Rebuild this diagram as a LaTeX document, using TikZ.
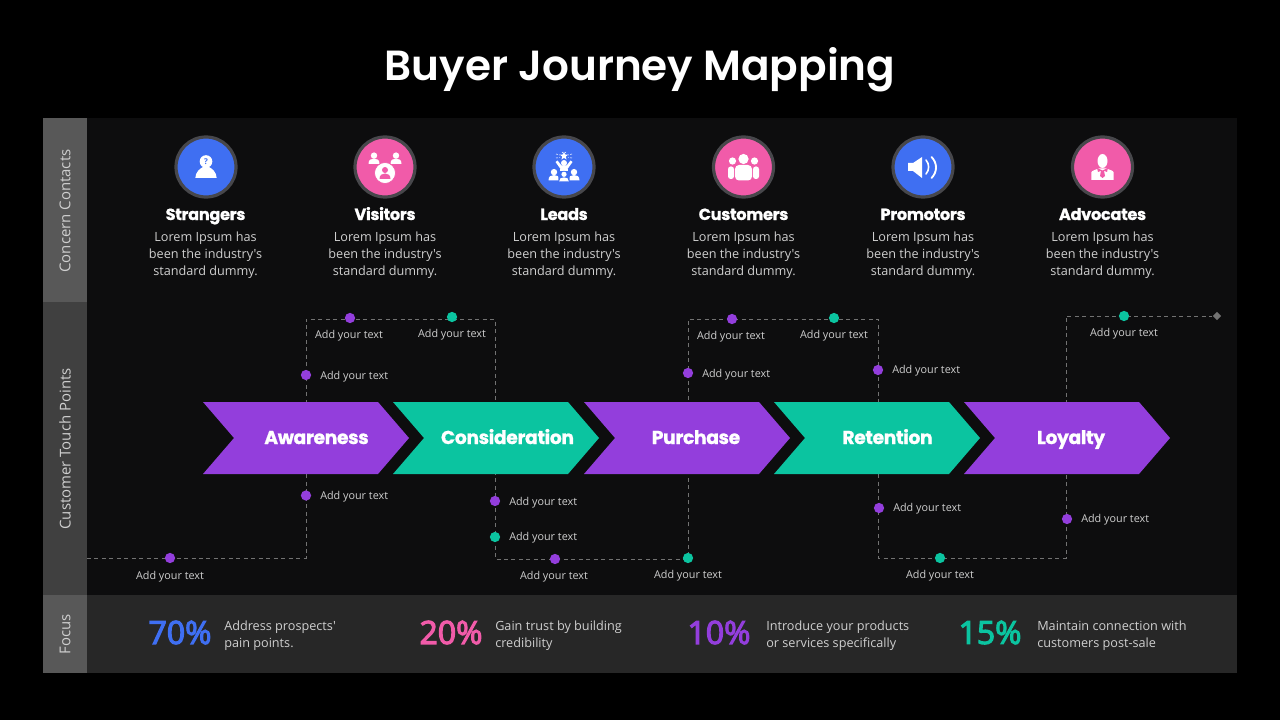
\documentclass[tikz,border=0pt]{standalone}
\usepackage{fontspec}
\newfontfamily\bodyf{Open Sans}
\newfontfamily\pctf{Open Sans}[FakeBold=3.5]
\newfontfamily\pop{Poppins}[UprightFont=* Bold,LetterSpace=-1.8,FakeBold=1]
\newfontfamily\popt{Poppins}[UprightFont=* SemiBold]
\usetikzlibrary{shapes.geometric}
\definecolor{cblue}{HTML}{3F6FF2}
\definecolor{cpink}{HTML}{F15BA9}
\definecolor{cpurple}{HTML}{933EDC}
\definecolor{cteal}{HTML}{0BC4A0}
\definecolor{panel}{HTML}{0D0D0E}
\definecolor{focusbg}{HTML}{272727}
\definecolor{side}{HTML}{404040}
\definecolor{sidelt}{HTML}{585858}
\definecolor{ringc}{HTML}{47474B}
\definecolor{bodyc}{HTML}{CFCFCF}
\definecolor{dashc}{HTML}{727272}
\tikzset{
  x=0.75pt,y=-0.75pt,
  ring/.style={circle,draw=ringc,line width=2.4pt,minimum size=45pt,inner sep=0pt},
  chevtext/.style={font=\pop\fontsize{14}{16}\selectfont,text=white,anchor=base,inner sep=0pt},
  head/.style={font=\pop\fontsize{12.1}{14}\selectfont,text=white,inner sep=0pt},
  bodytxt/.style={font=\bodyf\fontsize{9.5}{12.75}\selectfont,text=bodyc,align=center,inner sep=0pt},
  addc/.style={font=\bodyf\fontsize{8.1}{10}\selectfont,text=bodyc,inner sep=0pt,yshift=-1.5pt},
  addl/.style={addc,anchor=west},
  dotp/.style={circle,fill=cpurple,minimum size=7.7pt,inner sep=0pt},
  dott/.style={circle,fill=cteal,minimum size=7.7pt,inner sep=0pt},
  dashline/.style={draw=dashc,line width=0.55pt,dash pattern=on 3pt off 2.6pt},
  vert/.style={rotate=90,font=\bodyf\fontsize{11.2}{12}\selectfont,text=bodyc,inner sep=0pt},
  pct/.style={font=\pctf\fontsize{24}{28}\selectfont,inner sep=0pt},
  ftxt/.style={font=\bodyf\fontsize{9.5}{12.75}\selectfont,text=bodyc,align=left,anchor=west,inner sep=0pt,yshift=-1.5pt},
}
\newcommand{\chevshape}[2]{%
  \fill[#2] (#1,402) -- ++(175,0) -- ++(31,36) -- ++(-31,36) -- ++(-175,0) -- ++(31,-36) -- cycle;}
\newcommand{\sperson}[3]{% x y scale
  \begin{scope}[shift={(#1,#2)},scale=#3]
  \fill[white] (0,-3.4) circle (3.2);
  \fill[white] (-5.5,5) .. controls (-5.5,0.5) and (-3,-0.4) .. (0,-0.4) .. controls (3,-0.4) and (5.5,0.5) .. (5.5,5) -- cycle;
  \end{scope}}
\begin{document}
\begin{tikzpicture}
\path[use as bounding box,fill=black] (0,0) rectangle (1280,720);
\fill[panel] (87,118) rectangle (1237,595);
\fill[focusbg] (87,595) rectangle (1237,673);
\fill[sidelt] (43,118) rectangle (87,302);
\fill[side] (43,302) rectangle (87,595);
\fill[sidelt] (43,595) rectangle (87,673);
\node[font=\popt\fontsize{31.6}{38}\selectfont,text=white,inner sep=0pt,anchor=base] (title) at (640,81) {Buyer Journey Mapping};
\node[vert] (v1) at (65,211) {Concern Contacts};
\node[vert] (v2) at (65,449) {Customer Touch Points};
\node[vert] (v3) at (65,634) {Focus};

% rings
\node[ring,fill=cblue] (c1) at (206,167) {};
\node[ring,fill=cpink] (c2) at (385,167) {};
\node[ring,fill=cblue] (c3) at (564,167) {};
\node[ring,fill=cpink] (c4) at (743.5,167) {};
\node[ring,fill=cblue] (c5) at (923,167) {};
\node[ring,fill=cpink] (c6) at (1102.5,167) {};

% strangers icon
\begin{scope}[shift={(c1.center)}]
\fill[white] (0,-5.5) circle (6.3);
\fill[white] (-10.7,11) .. controls (-10.5,5) and (-6,1.5) .. (-3,0) -- (3,0) .. controls (6,1.5) and (10.5,5) .. (10.7,11) -- cycle;
\node[font=\bodyf\bfseries\fontsize{6}{6}\selectfont,text=cblue,inner sep=0pt] (q) at (0,-5.5) {?};
\end{scope}
% visitors icon
\begin{scope}[shift={(c2.center)}]
\sperson{-11}{-8}{1}
\sperson{11}{-8}{1}
\fill[white,draw=cpink,line width=0.5pt] (0,6) circle (10.5);
\fill[cpink] (0,3) circle (3);
\fill[cpink] (-5.5,12) .. controls (-5.5,8) and (-3,6.5) .. (0,6.5) .. controls (3,6.5) and (5.5,8) .. (5.5,12) -- cycle;
\end{scope}
% leads icon
\begin{scope}[shift={(c3.center)}]
\node[star,star points=5,star point ratio=2.3,fill=white,minimum size=6.5pt,inner sep=0pt] (st) at (0,-11) {};
\draw[white,line width=0.4pt,dash pattern=on 1.5pt off 1pt] (-8,-13) -- (-4,-12) (8,-13) -- (4,-12) (-8,-9) -- (-4,-9.5) (8,-9) -- (4,-9.5) (-2,-15) -- (-1,-14) (2,-15) -- (1,-14);
\fill[white] (0,-4) circle (3);
\fill[white] (-8.5,-5) -- (-6.5,-6.5) -- (-2.5,-1.5) -- (2.5,-1.5) -- (6.5,-6.5) -- (8.5,-5) -- (3.5,2) -- (-3.5,2) -- cycle;
\sperson{-10}{8.5}{1}
\sperson{10}{8.5}{1}
\fill[white] (-4,2) rectangle (4,4);
\fill[cblue] (-5.7,14.5) -- (-5.7,9) .. controls (-5.7,5) and (-3,3.8) .. (0,3.8) .. controls (3,3.8) and (5.7,5) .. (5.7,9) -- (5.7,14.5) -- cycle;
\fill[white] (0,7.3) circle (2.6);
\fill[white] (-4.8,14.3) .. controls (-4.8,11.5) and (-2.8,10.4) .. (0,10.4) .. controls (2.8,10.4) and (4.8,11.5) .. (4.8,14.3) -- cycle;
\end{scope}
% customers icon
\begin{scope}[shift={(c4.center)}]
\fill[white] (0,-8) circle (5.1);
\fill[white] (-11,-6) circle (3.6);
\fill[white] (11,-6) circle (3.6);
\fill[white,rounded corners=2pt] (-15.5,12) -- (-15.5,-0.5) -- (-9.5,-0.5) -- (-9.5,12) -- cycle;
\fill[white,rounded corners=2pt] (15.5,12) -- (15.5,-0.5) -- (9.5,-0.5) -- (9.5,12) -- cycle;
\fill[white,rounded corners=3pt] (-8.5,13.5) -- (-8.5,-2) -- (8.5,-2) -- (8.5,13.5) -- cycle;
\end{scope}
% promotors icon
\begin{scope}[shift={(c5.center)}]
\fill[white] (-15,-4) -- (-10,-4) -- (-1,-10) -- (-1,11) -- (-10,4) -- (-15,4) -- cycle;
\draw[white,line width=1.2pt,line cap=round] (3,-7) .. controls (6.5,-3) and (6.5,3) .. (3,7);
\draw[white,line width=1.4pt,line cap=round] (8.5,-10) .. controls (14.5,-4) and (14.5,5) .. (8.5,11);
\end{scope}
% advocates icon
\begin{scope}[shift={(c6.center)}]
\fill[white] (0,-6) ellipse (5 and 7);
\fill[white] (-11.2,13) -- (-11.2,5.5) .. controls (-11,3.5) and (-7,3) .. (-4,1.5) -- (4,1.5) .. controls (7,3) and (11,3.5) .. (11.2,5.5) -- (11.2,13) -- cycle;
\fill[cpink] (-5.5,0.8) -- (0,3.5) -- (5.5,0.8) -- (4.5,5) -- (1.5,3.8) -- (2.5,9) -- (0,11) -- (-2.5,9) -- (-1.5,3.8) -- (-4.5,5) -- cycle;
\end{scope}

% heads
\foreach \n/\x/\t in {h1/205.5/Strangers,h2/385/Visitors,h3/564/Leads,h4/743.5/Customers,h5/923/Promotors,h6/1102.5/Advocates}{
  \node[head,anchor=base] (\n) at (\x,220) {\t};
  \node[bodytxt,anchor=base] (\n b) at (\x,241.5) {Lorem Ipsum has};
  \node[bodytxt,anchor=base] (\n c) at (\x,258.5) {been the industry's};
  \node[bodytxt,anchor=base] (\n d) at (\x,275.5) {standard dummy.};
}

% dashed route corners
\coordinate (r0) at (87,558);
\coordinate (r1) at (306,558);
\coordinate (r2) at (306,319);
\coordinate (r3) at (495,319);
\coordinate (r4) at (495,559);
\coordinate (r5) at (688,559);
\coordinate (r6) at (688,319);
\coordinate (r7) at (878,319);
\coordinate (r8) at (878,558);
\coordinate (r9) at (1066,558);
\coordinate (r10) at (1066,316);
\node[diamond,fill=dashc,minimum size=6.5pt,inner sep=0pt] (end) at (1217,316) {};
\draw[dashline] (r0) -- (r1) -- (r2) -- (r3) -- (r4) -- (r5) -- (r6) -- (r7) -- (r8) -- (r9) -- (r10) -- (end);

% chevrons
\chevshape{203}{cpurple}
\chevshape{393}{cteal}
\chevshape{584}{cpurple}
\chevshape{774}{cteal}
\chevshape{964}{cpurple}
\node[chevtext] (a1) at (316.5,444) {Awareness};
\node[chevtext] (a2) at (507.5,444) {Consideration};
\node[chevtext] (a3) at (696,444) {Purchase};
\node[chevtext] (a4) at (887.5,444) {Retention};
\node[chevtext] (a5) at (1071,444) {Loyalty};

% dots
\foreach \n/\s/\x/\y in {
 d1/dotp/170/558,d2/dotp/306/495.5,d3/dotp/306/375,d4/dotp/350/318,d5/dott/452/317,
 d6/dotp/495/501,d7/dott/495/537,d8/dotp/555/559,d9/dott/688/558,d10/dotp/688/373,
 d11/dotp/732/319,d12/dott/834/318,d13/dotp/878/370,d14/dotp/879/508,d15/dott/940/558,
 d16/dotp/1067/519,d17/dott/1124/316}{
  \node[\s] (\n) at (\x,\y) {};
}
% labels
\foreach \n/\x/\y in {t1/170/575,t4/349/334,t5/452/333,t8/554/575,t9/688/574,t11/731/335,t12/834/334,t15/940/574,t17/1124/332}{
  \node[addc] (\n) at (\x,\y) {Add your text};
}
\foreach \n/\x/\y in {t2/320/495,t3/320/375,t6/509/501,t7/509/536,t10/702/373,t13/892/369,t14/893/507,t16/1081/518}{
  \node[addl] (\n) at (\x,\y) {Add your text};
}

% focus
\node[pct,text=cblue] (p1) at (180,632.5) {70\%};
\node[pct,text=cpink] (p2) at (451,632.5) {20\%};
\node[pct,text=cpurple] (p3) at (719,632.5) {10\%};
\node[pct,text=cteal] (p4) at (990,632.5) {15\%};
\node[ftxt] (f1) at (224,634) {Address prospects'\\pain points.};
\node[ftxt] (f2) at (495,634) {Gain trust by building\\credibility};
\node[ftxt] (f3) at (766,634) {Introduce your products\\or services specifically};
\node[ftxt] (f4) at (1037,634) {Maintain connection with\\customers post-sale};
\end{tikzpicture}
\end{document}
